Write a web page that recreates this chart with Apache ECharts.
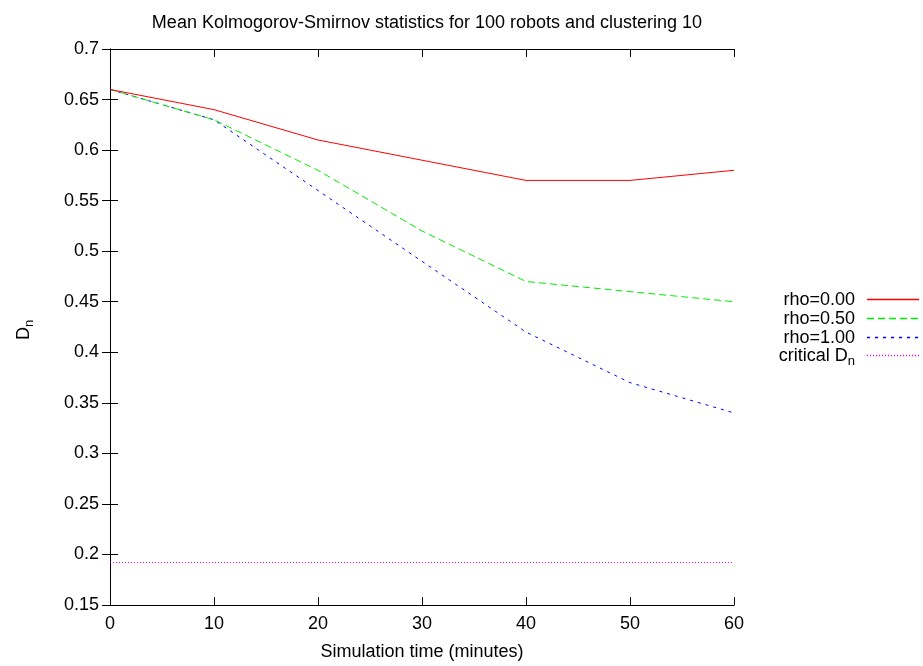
<!DOCTYPE html>
<html><head><meta charset="utf-8">
<script src="https://cdn.jsdelivr.net/npm/echarts@6/dist/echarts.min.js"></script>
<style>html,body{margin:0;padding:0;background:#fff}#c{width:923px;height:666px}</style>
</head><body><div id="c"></div>
<script>
const times = [0, 10, 20, 30, 40, 50, 60];
const rho000 = [0.66, 0.64, 0.61, 0.59, 0.57, 0.57, 0.58];
const rho050 = [0.66, 0.63, 0.58, 0.52, 0.47, 0.46, 0.45];
const rho100 = [0.66, 0.63, 0.56, 0.49, 0.42, 0.37, 0.34];
const criticalDn = [0.192, 0.192, 0.192, 0.192, 0.192, 0.192, 0.192];
const seriesNames = ['rho=0.00', 'rho=0.50', 'rho=1.00', 'critical D{sub|n}'];
const titleText = 'Mean Kolmogorov-Smirnov statistics for 100 robots and clustering 10';
const xName = 'Simulation time (minutes)';

const FONT = 'Liberation Sans';
const FS = 18;
const L = 110, R = 734, T = 49, B = 605;
const colors = ['#ff0000', '#00ee00', '#0000ff', '#ff00ff'];
const dashes = ['solid', [7, 4], [3, 5], [1, 2]];
const values = [rho000, rho050, rho100, criticalDn];

const chart = echarts.init(document.getElementById('c'));
const pair = a => times.map((t, i) => [t, a[i]]);
const richSub = { sub: { fontSize: 13, fontFamily: FONT, padding: [11, 0, 0, 0] } };
const legendGraphics = [];
const legendY = [299, 318, 337, 355];
seriesNames.forEach((n, i) => {
  legendGraphics.push({
    type: 'text', x: 855, y: legendY[i] + 1, z: 10,
    style: {
      text: n,
      font: FS + 'px "' + FONT + '"', fill: '#000', align: 'right', verticalAlign: 'middle',
      rich: richSub
    }
  });
  legendGraphics.push({
    type: 'polyline', z: 10,
    shape: { points: [[867, legendY[i] + 0.5], [919, legendY[i] + 0.5]] },
    style: { stroke: colors[i], fill: null, lineWidth: 1.3, lineDash: dashes[i] === 'solid' ? null : dashes[i] }
  });
});

const tickAxis = { show: true, inside: true, length: 8, lineStyle: { color: '#000' } };
const lineAxis = { show: true, lineStyle: { color: '#000', width: 1 } };

chart.setOption({
  animation: false,
  backgroundColor: '#fff',
  textStyle: { fontFamily: FONT },
  title: {
    text: titleText, left: (L + R) / 2, top: 9, textAlign: 'center',
    textStyle: { fontSize: FS, fontWeight: 'normal', color: '#000', fontFamily: FONT }
  },
  grid: { left: L, right: 923 - R, top: T, bottom: 666 - B, containLabel: false, outerBoundsMode: 'none', show: false },
  xAxis: [{
    type: 'value', min: 0, max: 60, interval: 10, position: 'bottom',
    name: xName, nameLocation: 'middle', nameGap: 38,
    nameTextStyle: { fontSize: FS, color: '#000', fontFamily: FONT },
    axisLine: lineAxis, axisTick: tickAxis,
    axisLabel: { fontSize: FS, color: '#000', margin: 10, fontFamily: FONT },
    splitLine: { show: false }
  }, {
    type: 'value', min: 0, max: 60, interval: 10, position: 'top',
    axisLine: lineAxis, axisTick: tickAxis,
    axisLabel: { show: false }, splitLine: { show: false }
  }],
  yAxis: [{
    type: 'value', min: 0.15, max: 0.7, interval: 0.05, position: 'left',
    axisLine: lineAxis, axisTick: tickAxis,
    axisLabel: { fontSize: FS, color: '#000', margin: 11, fontFamily: FONT,
      formatter: v => String(+v.toFixed(2)) },
    splitLine: { show: false }
  }, {
    type: 'value', min: 0.15, max: 0.7, interval: 0.05, position: 'right',
    axisLine: lineAxis, axisTick: tickAxis,
    axisLabel: { show: false }, splitLine: { show: false }
  }],
  graphic: [{
    type: 'text', x: 24, y: 330, rotation: Math.PI / 2,
    style: {
      text: 'D{sub|n}', font: FS + 'px "' + FONT + '"', fill: '#000', align: 'center', verticalAlign: 'middle',
      rich: richSub
    }
  }].concat(legendGraphics),
  series: values.map((v, i) => ({
    name: seriesNames[i], type: 'line', data: pair(v), symbol: 'none',
    xAxisIndex: 0, yAxisIndex: 0,
    lineStyle: { color: colors[i], width: 1, type: dashes[i] },
    z: 2 + (3 - i)
  }))
});
</script></body></html>
